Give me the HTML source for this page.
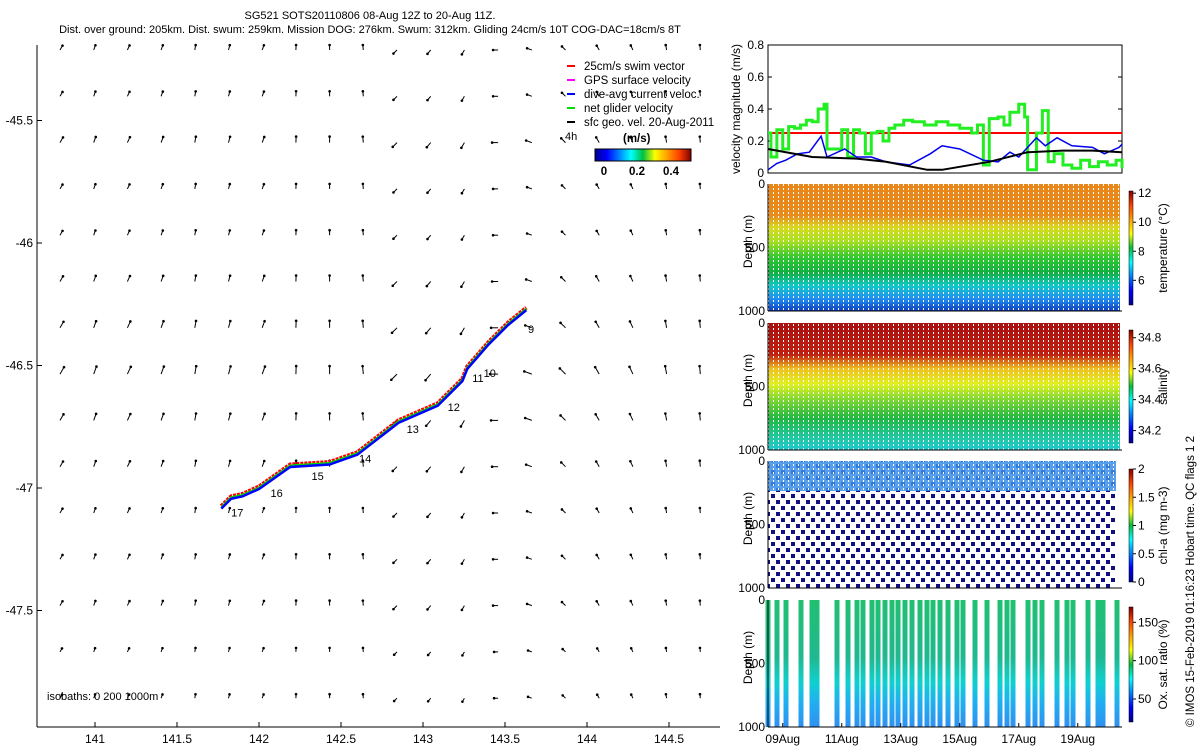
<!DOCTYPE html>
<html><head><meta charset="utf-8"><style>
body{margin:0;background:#fff;}
svg{display:block;font-family:"Liberation Sans",sans-serif;}
</style></head><body>
<svg id="c" width="1200" height="750" viewBox="0 0 1200 750">
<defs>
<linearGradient id="jet" x1="0" y1="1" x2="0" y2="0">
<stop offset="0" stop-color="#00008f"/><stop offset="0.125" stop-color="#0000ff"/><stop offset="0.375" stop-color="#00ffff"/><stop offset="0.5" stop-color="#00c040"/><stop offset="0.625" stop-color="#ffff00"/><stop offset="0.875" stop-color="#ff4000"/><stop offset="1" stop-color="#800000"/></linearGradient>
<linearGradient id="jeth" x1="0" y1="0" x2="1" y2="0">
<stop offset="0" stop-color="#00008f"/><stop offset="0.125" stop-color="#0000ff"/><stop offset="0.375" stop-color="#00ffff"/><stop offset="0.5" stop-color="#00c040"/><stop offset="0.625" stop-color="#ffff00"/><stop offset="0.875" stop-color="#ff4000"/><stop offset="1" stop-color="#800000"/></linearGradient>
<linearGradient id="tg" x1="0" y1="0" x2="0" y2="1">
<stop offset="0" stop-color="#e8861a"/><stop offset="0.25" stop-color="#e88a1c"/><stop offset="0.34" stop-color="#d8d820"/><stop offset="0.45" stop-color="#a8e020"/><stop offset="0.58" stop-color="#30c830"/><stop offset="0.7" stop-color="#10b040"/><stop offset="0.8" stop-color="#10c8c8"/><stop offset="0.9" stop-color="#2090f0"/><stop offset="1" stop-color="#1040c0"/></linearGradient>
<linearGradient id="sg" x1="0" y1="0" x2="0" y2="1">
<stop offset="0" stop-color="#a81010"/><stop offset="0.25" stop-color="#c02010"/><stop offset="0.36" stop-color="#f0c020"/><stop offset="0.48" stop-color="#e0f020"/><stop offset="0.6" stop-color="#80d830"/><stop offset="0.75" stop-color="#20b840"/><stop offset="0.9" stop-color="#20c8a0"/><stop offset="1" stop-color="#20c8d0"/></linearGradient>
<linearGradient id="og" x1="0" y1="0" x2="0" y2="1">
<stop offset="0" stop-color="#20c070"/><stop offset="0.45" stop-color="#20b890"/><stop offset="0.65" stop-color="#10d0d0"/><stop offset="0.8" stop-color="#20b0f0"/><stop offset="1" stop-color="#3090f0"/></linearGradient>
<pattern id="gaps" width="5" height="4" patternUnits="userSpaceOnUse"><rect x="3" y="0" width="1" height="2" fill="#fff"/></pattern>
<pattern id="chldots" width="10" height="12" patternUnits="userSpaceOnUse"><rect x="1" y="2" width="4" height="4" fill="#101080"/><rect x="6" y="8" width="4" height="4" fill="#101080"/></pattern>
</defs>
<g id="map"></g>
<g id="right"></g>
<text x="370" y="19" font-size="11" text-anchor="middle">SG521 SOTS20110806 08-Aug 12Z to 20-Aug 11Z.</text>
<text x="370" y="33" font-size="11" text-anchor="middle">Dist. over ground: 205km. Dist. swum: 259km. Mission DOG: 276km. Swum: 312km. Gliding 24cm/s 10T COG-DAC=18cm/s 8T</text>
<text transform="translate(1194,727) rotate(-90)" font-size="11.5">© IMOS 15-Feb-2019 01:16:23 Hobart time. QC flags 1  2</text>
</svg>
<script>
const NS="http://www.w3.org/2000/svg";
function mk(p,t,a,txt){const e=document.createElementNS(NS,t);for(const k in a)e.setAttribute(k,a[k]);if(txt!==undefined)e.textContent=txt;p.appendChild(e);return e;}
// ---- map data ----
const lonTicks=[141,141.5,142,142.5,143,143.5,144,144.5];
const latTicks=[-45.5,-46,-46.5,-47,-47.5];
const trackLon=[141.77,141.83,141.9,142.0,142.19,142.43,142.6,142.85,143.09,143.24,143.27,143.4,143.52,143.63];
const trackLat=[-47.08,-47.04,-47.03,-47.0,-46.91,-46.9,-46.86,-46.73,-46.66,-46.56,-46.51,-46.41,-46.33,-46.27];
const dayLabels=["17","16","15","14","13","12","11","10","9"];
const dayLon=[141.83,142.07,142.32,142.61,142.9,143.15,143.3,143.37,143.64];
const dayLat=[-47.1,-47.02,-46.95,-46.88,-46.76,-46.67,-46.55,-46.53,-46.35];
const colAngle=[60,70,65,70,80,75,70,88,90,95,225,230,240,180,160,135,120,115,100,95];
const rowLen=[5,5,6,5,5,6,7,8,7,6,5,5,5,4,4];
const X=lon=>95+(lon-141)*164, Y=lat=>488-(lat+47)*245;
const map=document.getElementById('map');
for(let r=0;r<rowLen.length;r++)for(let c=0;c<colAngle.length;c++){
 const x0=60+c*33.7,y0=50+r*46.3,a=colAngle[c]*Math.PI/180,L=rowLen[r];
 const x1=x0+L*Math.cos(a),y1=y0-L*Math.sin(a);
 const q=mk(map,'line',{x1:x0,y1:y0,x2:x1,y2:y1,stroke:'#000','stroke-width':1});
 
 
 const h=mk(map,'circle',{cx:x1,cy:y1,r:1.3,fill:'#000'});
 
 
}
mk(map,'line',{x1:37,y1:45,x2:37,y2:727,stroke:'#000'});
mk(map,'line',{x1:37,y1:727,x2:720,y2:727,stroke:'#000'});
lonTicks.forEach(v=>{mk(map,'line',{x1:X(v),y1:727,x2:X(v),y2:722,stroke:'#000'});
 const t=mk(map,'text',{x:X(v),y:743,'font-size':12,'text-anchor':'middle'},String(v));
 
 });
latTicks.forEach(v=>{mk(map,'line',{x1:37,y1:Y(v),x2:42,y2:Y(v),stroke:'#000'});
 const t=mk(map,'text',{x:33,y:Y(v)+4,'font-size':12,'text-anchor':'end'},String(v));
 
 });
[['#ff0000',4,-1.5,'3 1'],['#00dd00',2,-0.5,'none'],['#0000ff',2.5,1,'none']].forEach(([col,w,off,da])=>{
 const p=mk(map,'polyline',{points:trackLon.map((l,i)=>X(l)+','+(Y(trackLat[i])+off)).join(' '),fill:'none',stroke:col,'stroke-width':w,'stroke-dasharray':da});
 
 });
dayLabels.forEach((d,i)=>{const t=mk(map,'text',{x:X(dayLon[i]),y:Y(dayLat[i])+4,'font-size':11},d);
 
 });
mk(map,'text',{x:47,y:700,'font-size':11},'isobaths: 0   200  1000m');
const legItems=[['#ff0000','25cm/s swim vector'],['#ff00ff','GPS surface velocity'],['#0000ff','dive-avg current veloc.'],['#00dd00','net glider velocity'],['#000','sfc geo. vel. 20-Aug-2011']];
legItems.forEach((it,i)=>{const y=66+i*14;
 mk(map,'line',{x1:567,y1:y,x2:575,y2:y,stroke:it[0],'stroke-width':2});
 const t=mk(map,'text',{x:584,y:y+4,'font-size':11.5},it[1]);
 
 });
mk(map,'text',{x:565,y:140,'font-size':11},'4h');
mk(map,'text',{x:623,y:142,'font-size':11.5,'font-weight':'bold'},'(m/s)');
mk(map,'rect',{x:595,y:149,width:96,height:12,fill:'url(#jeth)',stroke:'#000'});
[['0',604],['0.2',637],['0.4',671]].forEach(a=>mk(map,'text',{x:a[1],y:175,'font-size':11.5,'font-weight':'bold','text-anchor':'middle'},a[0]));
// ---- right panels ----
const R=document.getElementById('right');
const x0=768,x1=1122,dayPx=(x1-x0)/12;
const T=d=>x0+d*dayPx;
const velTicks=[0,0.2,0.4,0.6,0.8];
const greenDays=[0,0.1,0.3,0.5,0.7,0.9,1.1,1.3,1.5,1.7,1.9,2.0,2.5,2.7,2.9,3.1,3.3,3.5,3.7,3.9,4.1,4.3,4.6,4.9,5.3,5.7,6.1,6.5,6.9,7.1,7.3,7.5,7.8,8.0,8.2,8.5,8.7,8.8,9.1,9.3,9.5,9.7,10.0,10.3,10.6,10.9,11.2,11.5,11.8,12.0];
const greenVal=[0.25,0.1,0.27,0.15,0.29,0.28,0.3,0.33,0.32,0.4,0.43,0.15,0.27,0.1,0.27,0.25,0.12,0.25,0.26,0.2,0.28,0.3,0.33,0.32,0.3,0.32,0.3,0.28,0.25,0.3,0.05,0.34,0.35,0.3,0.38,0.43,0.35,0.02,0.25,0.39,0.07,0.12,0.05,0.03,0.08,0.04,0.07,0.05,0.08,0.03];
const blueDays=[0,0.3,0.6,1.0,1.4,1.8,2.0,2.6,3.0,3.5,4.0,4.8,5.5,5.9,6.5,7.3,7.8,8.2,8.5,9.1,9.4,9.8,10.3,11.0,11.4,11.9,12.0];
const blueVal=[0.02,0.06,0.08,0.12,0.13,0.23,0.1,0.15,0.1,0.1,0.07,0.05,0.12,0.17,0.15,0.08,0.07,0.13,0.1,0.22,0.17,0.22,0.17,0.16,0.12,0.16,0.18];
const blackDays=[0,1.5,3,4,5.4,5.9,7.5,8.8,10,11,12];
const blackVal=[0.15,0.1,0.09,0.07,0.02,0.02,0.07,0.13,0.14,0.14,0.13];
const swimRef=[0.25];
const VY=v=>173-v*160;
const vp=mk(R,'g',{});
mk(vp,'rect',{x:x0,y:45,width:x1-x0,height:128,fill:'#fff',stroke:'#000'});
velTicks.forEach(v=>{mk(vp,'line',{x1:x0,y1:VY(v),x2:x0+4,y2:VY(v),stroke:'#000'});mk(vp,'line',{x1:x1-4,y1:VY(v),x2:x1,y2:VY(v),stroke:'#000'});
 const t=mk(vp,'text',{x:x0-4,y:VY(v)+4,'font-size':12,'text-anchor':'end'},String(v));});
mk(vp,'line',{x1:x0,y1:VY(swimRef[0]),x2:x1,y2:VY(swimRef[0]),stroke:'#ff0000','stroke-width':2});
let gp='';greenDays.forEach((d,i)=>{const nx=i<greenDays.length-1?greenDays[i+1]:12;gp+=(i?'L':'M')+T(d)+','+VY(greenVal[i])+'L'+T(nx)+','+VY(greenVal[i]);});
const gl=mk(vp,'path',{d:gp,fill:'none',stroke:'#22ee22','stroke-width':3});
const bl=mk(vp,'polyline',{points:blueDays.map((d,i)=>T(d)+','+VY(blueVal[i])).join(' '),fill:'none',stroke:'#0000ee','stroke-width':1.5});
const kl=mk(vp,'polyline',{points:blackDays.map((d,i)=>T(d)+','+VY(blackVal[i])).join(' '),fill:'none',stroke:'#000','stroke-width':2});
mk(vp,'text',{transform:'translate(740,109) rotate(-90)','font-size':12,'text-anchor':'middle'},'velocity magnitude (m/s)');
const oxCols=[768,777,786,801,812,817,837,848,857,863,872,878,885,892,898,905,912,920,927,933,940,948,957,963,975,987,1000,1007,1013,1028,1035,1042,1057,1067,1073,1088,1098,1103,1117];
const panels=[
 {name:'temperature',top:184,fill:'url(#tg)',cb:[191,305],lo:4.3,hi:12.15,ticks:[6,8,10,12],fmt:v=>v,label:'temperature (°C)'},
 {name:'salinity',top:323,fill:'url(#sg)',cb:[330,443],lo:34.12,hi:34.85,ticks:[34.2,34.4,34.6,34.8],fmt:v=>v.toFixed(1),label:'salinity'},
 {name:'chlorophyll',top:461,fill:'chl',cb:[469,582],lo:0,hi:2,ticks:[0,0.5,1,1.5,2],fmt:v=>v,label:'chl-a (mg m-3)'},
 {name:'oxygen',top:600,fill:'ox',cb:[607,722],lo:20,hi:170,ticks:[50,100,150],fmt:v=>v,label:'Ox. sat. ratio (%)'}];
const depthTicks=[0,500,1000];
panels.forEach(p=>{
 const g=mk(R,'g',{});
 const h=127,top=p.top;
 if(p.fill==='chl'){
  mk(g,'rect',{x:x0,y:top,width:x1-x0-6,height:h,fill:'url(#chldots)'});
  mk(g,'rect',{x:x0,y:top,width:x1-x0-6,height:30,fill:'#3a8ee8',opacity:0.85});
  mk(g,'rect',{x:x0,y:top,width:x1-x0-6,height:30,fill:'url(#gaps)'});
 } else if(p.fill==='ox'){
  oxCols.forEach(cx=>{const r=mk(g,'rect',{x:cx-2.5,y:top,width:5,height:h,fill:'url(#og)'});});
 } else {
  mk(g,'rect',{x:x0,y:top,width:x1-x0-2,height:h,fill:p.fill});
  mk(g,'rect',{x:x0,y:top,width:x1-x0-2,height:h,fill:'url(#gaps)'});
 }
 mk(g,'line',{x1:x0,y1:top,x2:x0,y2:top+h,stroke:'#000'});
 mk(g,'line',{x1:x0,y1:top+h,x2:x1,y2:top+h,stroke:'#000'});
 depthTicks.forEach(d=>{const y=top+d/1000*h;
  const t=mk(g,'text',{x:x0-3,y:y+4,'font-size':12,'text-anchor':'end'},String(d));});
 mk(g,'text',{transform:`translate(752,${top+h/2-6}) rotate(-90)`,'font-size':12,'text-anchor':'middle'},'Depth (m)');
 const [c0,c1]=p.cb;
 const cb=mk(g,'rect',{x:1129,y:c0,width:4,height:c1-c0,fill:'url(#jet)',stroke:'#000','stroke-width':0.5});
 p.ticks.forEach(v=>{const y=c1-(v-p.lo)/(p.hi-p.lo)*(c1-c0);
  mk(g,'line',{x1:1133,y1:y,x2:1136,y2:y,stroke:'#000'});
  mk(g,'text',{x:1138,y:y+4,'font-size':12},String(p.fmt(v)));});
 mk(g,'text',{transform:`translate(1167,${(c0+c1)/2}) rotate(-90)`,'font-size':12,'text-anchor':'middle'},p.label);
});
const dateLabels=['09Aug','11Aug','13Aug','15Aug','17Aug','19Aug'];
const dateDays=[0.5,2.5,4.5,6.5,8.5,10.5];
dateLabels.forEach((s,i)=>{const x=T(dateDays[i]);mk(R,'line',{x1:x,y1:727,x2:x,y2:723,stroke:'#000'});
 const t=mk(R,'text',{x:x,y:743,'font-size':12,'text-anchor':'middle'},s);});
</script>
</body></html>
